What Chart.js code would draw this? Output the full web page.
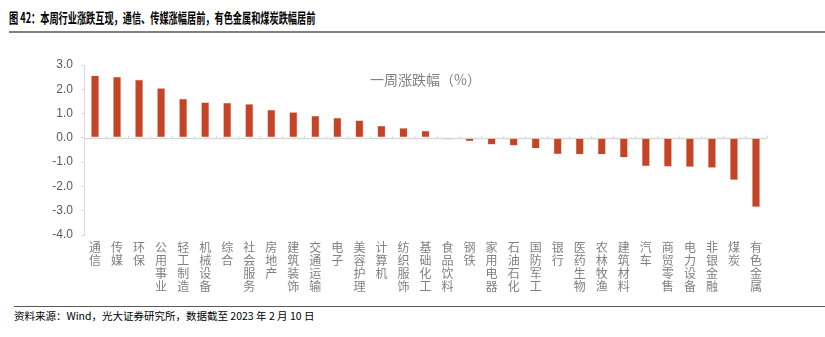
<!DOCTYPE html>
<html>
<head>
<meta charset="utf-8">
<script src="https://cdn.jsdelivr.net/npm/chart.js@4"></script>
<style>
    body {
        margin: 0;
        background: #fff;
        width: 825px;
        height: 337px;
        position: relative;
        overflow: hidden;
        font-family: "Noto Sans CJK SC", sans-serif;
    }
    #title {
        position: absolute;
        left: 9px;
        top: 7px;
        font-size: 14px;
        font-weight: bold;
        transform: scaleX(0.655);
        transform-origin: left top;
        white-space: nowrap;
        color: #000;
    }
    #rule1 {
        position: absolute;
        left: 9px;
        right: 0;
        top: 31px;
        height: 2px;
        background: #808080;
    }
    #wrap {
        position: absolute;
        left: 0;
        top: 40px;
        width: 825px;
        height: 260px;
    }
    #rule2 {
        position: absolute;
        left: 14px;
        right: 0;
        top: 306px;
        height: 1px;
        background: #595959;
    }
    #source {
        position: absolute;
        left: 14px;
        top: 308px;
        font-size: 10.5px;
        color: #000;
        white-space: nowrap;
    }
</style>
</head>
<body>
<div id="title">图 42：本周行业涨跌互现，通信、传媒涨幅居前，有色金属和煤炭跌幅居前</div>
<div id="rule1"></div>
<div id="wrap"><canvas id="c"></canvas></div>
<div id="rule2"></div>
<div id="source">资料来源：Wind，光大证券研究所，数据截至 2023 年 2 月 10 日</div>
<script>
// industries, sorted by weekly change
const categories = [
    "通信", "传媒", "环保", "公用事业", "轻工制造", "机械设备", "综合", "社会服务",
    "房地产", "建筑装饰", "交通运输", "电子", "美容护理", "计算机", "纺织服饰", "基础化工",
    "食品饮料", "钢铁", "家用电器", "石油石化", "国防军工", "银行", "医药生物", "农林牧渔",
    "建筑材料", "汽车", "商贸零售", "电力设备", "非银金融", "煤炭", "有色金属",
];
// one-week change, %
const weeklyChange = [
    2.57, 2.52, 2.40, 2.05, 1.61, 1.47, 1.45, 1.40,
    1.16, 1.06, 0.91, 0.83, 0.73, 0.50, 0.41, 0.30,
    -0.07, -0.14, -0.28, -0.32, -0.44, -0.68, -0.69, -0.69,
    -0.81, -1.17, -1.19, -1.20, -1.24, -1.74, -2.85,
];
const seriesLabel = "一周涨跌幅（%）";
const yMin = -4;
const yMax = 3;
const yStep = 1;

// zero line + boundary ticks, and the floating series label
const zeroLinePlugin = {
    id: "zeroLine",
    beforeDatasetsDraw(chart) {
        const { ctx, chartArea, scales } = chart;
        const y0 = Math.round(scales.y.getPixelForValue(0)) + 0.5;
        ctx.save();
        ctx.strokeStyle = "#d9d9d9";
        ctx.lineWidth = 1.5;
        ctx.beginPath();
        ctx.moveTo(chartArea.left, y0);
        ctx.lineTo(chartArea.right, y0);
        ctx.stroke();
        ctx.lineWidth = 1;
        const n = categories.length;
        const w = (chartArea.right - chartArea.left) / n;
        for (let k = 1; k <= n; k++) {
            const x = Math.round(chartArea.left + k * w) + 0.5;
            ctx.beginPath();
            ctx.moveTo(x, y0);
            ctx.lineTo(x, y0 - 3);
            ctx.stroke();
        }
        ctx.restore();
    },
    afterDraw(chart) {
        const { ctx, chartArea } = chart;
        ctx.save();
        ctx.fillStyle = "#7f7f7f";
        ctx.font = '14px "Noto Sans CJK SC"';
        ctx.textAlign = "center";
        ctx.textBaseline = "middle";
        ctx.fillText(seriesLabel, (chartArea.left + chartArea.right) / 2, chartArea.top + 15);
        ctx.restore();
    },
};

new Chart(document.getElementById("c"), {
    type: "bar",
    data: {
        labels: categories.map((s) => s.split("")),
        datasets: [
            {
                label: seriesLabel,
                data: weeklyChange,
                backgroundColor: "#C54327",
                borderColor: "rgba(236,170,150,0.7)",
                borderWidth: 0.6,
                borderSkipped: false,
                categoryPercentage: 1,
                barPercentage: 0.37,
            },
        ],
    },
    options: {
        responsive: true,
        maintainAspectRatio: false,
        animation: false,
        layout: { padding: { left: 40, right: 58, top: 25, bottom: 0 } },
        plugins: { legend: { display: false }, tooltip: { enabled: false } },
        scales: {
            x: {
                offset: true,
                grid: { display: false, drawTicks: false },
                border: { display: false },
                ticks: {
                    autoSkip: false,
                    maxRotation: 0,
                    minRotation: 0,
                    padding: 6,
                    color: "#808080",
                    font: { family: "Noto Sans CJK SC", size: 12, lineHeight: "13px" },
                },
                afterFit: (s) => { s.height = 65; },
            },
            y: {
                min: yMin,
                max: yMax,
                grid: { drawOnChartArea: false, drawTicks: true, tickLength: 3, color: "#d9d9d9" },
                border: { color: "#d9d9d9" },
                ticks: {
                    stepSize: yStep,
                    padding: 8,
                    color: "#595959",
                    font: { family: "Liberation Sans", size: 12 },
                    callback: (v) => v.toFixed(1),
                },
                afterFit: (s) => { s.width = 44; },
            },
        },
    },
    plugins: [zeroLinePlugin],
});
</script>
</body>
</html>
